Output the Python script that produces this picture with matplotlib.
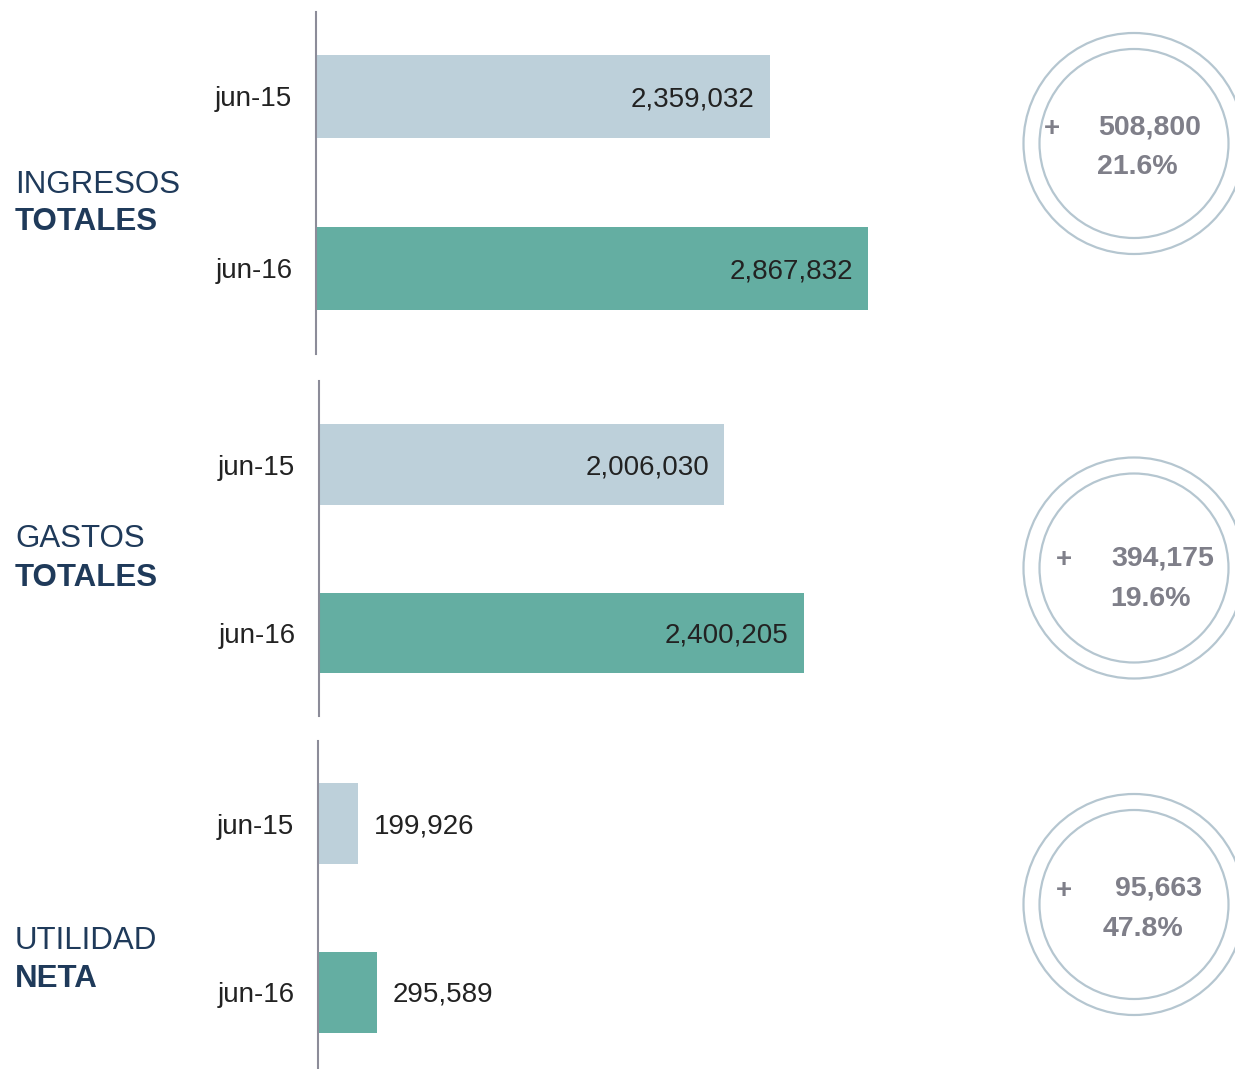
import matplotlib
matplotlib.use("Agg")
import matplotlib.pyplot as plt
from matplotlib.patches import Circle

plt.rcParams["font.family"] = ["Liberation Sans", "DejaVu Sans"]

# Chart data.
periods = ["jun-15", "jun-16"]
group_top = ["INGRESOS", "GASTOS", "UTILIDAD"]
group_bottom = ["TOTALES", "TOTALES", "NETA"]
values_jun15 = [2359032, 2006030, 199926]
values_jun16 = [2867832, 2400205, 295589]

# Colours.
color_prev = "#BDD0DA"
color_curr = "#64AEA2"
axis_color = "#8C8C99"
navy = "#1F3A5A"
circle_color = "#B5C6D0"
circle_text = "#7F7F89"

W, H = 1235, 1069
fig = plt.figure(figsize=(W / 100, H / 100), dpi=100)

# Panel layout in pixels: (axis x, top y, bottom y, px per unit, ylim)
panels = [
    (316, 12, 354, 1 / 5195, (1.497, -0.491)),
    (319, 381, 716, 1 / 4950, (1.493, -0.496)),
    (318, 741, 1068, 1 / 4968, (1.45, -0.49)),
]
circle_centers = [(1134, 143.5), (1134, 568), (1134, 904.5)]
label_y = [(185, 222), (539, 578), (941, 979)]
# offsets of "+", amount and percent inside each circle
text_offsets = [
    ((-82, -15), (16, -16), (3, 24)),
    ((-70, -8), (29, -9), (16, 31)),
    ((-70, -14), (24, -16), (9, 24)),
]

# Overlay for circles and group labels (pixel coordinates).
over = fig.add_axes([0, 0, 1, 1], zorder=0)
over.set_xlim(0, W)
over.set_ylim(H, 0)
over.axis("off")

for i in range(3):
    ax_x, top, bottom, scale, ylim = panels[i]
    axes_w = W - ax_x - 20
    ax = fig.add_axes([ax_x / W, 1 - bottom / H, axes_w / W, (bottom - top) / H], zorder=1)
    ax.patch.set_alpha(0)
    vals = [values_jun15[i], values_jun16[i]]
    ax.barh([0, 1], vals, height=0.48, color=[color_prev, color_curr])
    ax.set_xlim(0, axes_w / scale)
    ax.set_ylim(*ylim)
    for s in ["top", "right", "bottom"]:
        ax.spines[s].set_visible(False)
    ax.spines["left"].set_color(axis_color)
    ax.spines["left"].set_linewidth(1.5)
    ax.set_xticks([])
    ax.set_yticks([0, 1])
    ax.set_yticklabels(periods, fontsize=20, color="#222222")
    ax.tick_params(axis="y", length=0, pad=17)

    for j, v in enumerate(vals):
        label = f"{v:,}"
        if v * scale > 200:
            ax.annotate(label, (v, j), xytext=(-11, -2), textcoords="offset points",
                        ha="right", va="center", fontsize=20, color="#222222")
        else:
            ax.annotate(label, (v, j), xytext=(11, -2), textcoords="offset points",
                        ha="left", va="center", fontsize=20, color="#222222")

    # group labels
    over.text(15, label_y[i][0], group_top[i], fontsize=22.5, color=navy, va="center", ha="left")
    over.text(15, label_y[i][1], group_bottom[i], fontsize=22.5, color=navy,
              fontweight="bold", va="center", ha="left")

    # change circles
    cx, cy = circle_centers[i]
    over.add_patch(Circle((cx, cy), 110.5, fill=False, edgecolor=circle_color, lw=1.6))
    over.add_patch(Circle((cx, cy), 94.5, fill=False, edgecolor=circle_color, lw=1.6))
    diff = values_jun16[i] - values_jun15[i]
    pct = diff / values_jun15[i] * 100
    (px, py), (nx, ny), (qx, qy) = text_offsets[i]
    over.text(cx + px, cy + py, "+", fontsize=20, fontweight="bold", color=circle_text,
              ha="center", va="center")
    over.text(cx + nx, cy + ny, f"{diff:,}", fontsize=20.5, fontweight="bold",
              color=circle_text, ha="center", va="center")
    over.text(cx + qx, cy + qy, f"{pct:.1f}%", fontsize=20.5, fontweight="bold",
              color=circle_text, ha="center", va="center")

fig.savefig("out.png", dpi=100)
